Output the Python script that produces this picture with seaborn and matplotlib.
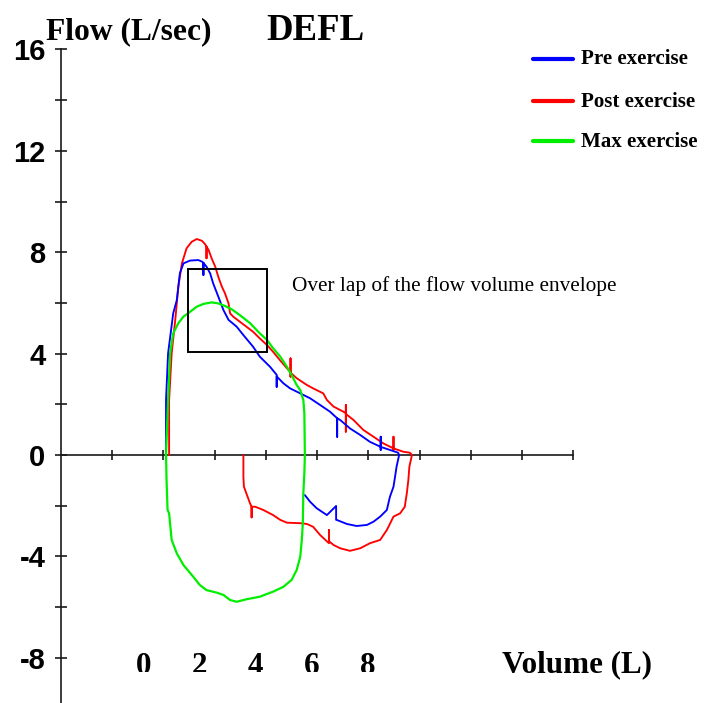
import matplotlib
matplotlib.use("Agg")
import matplotlib.pyplot as plt
import seaborn as sns
import pandas as pd
from matplotlib.patches import Rectangle
from matplotlib.lines import Line2D
from matplotlib.transforms import Bbox

# ---------------- data (volume in L, flow in L/sec) ----------------
series_names = ["Pre exercise", "Post exercise", "Max exercise"]
series_colors = ["#0000FF", "#FF0000", "#00EE00"]

pre_vol = [2.05, 2.05, 2.09, 2.19, 2.26, 2.32, 2.39, 2.52, 2.68, 2.75,
           2.78, 2.78, 2.78, 2.84, 2.91, 2.97, 3.07, 3.17, 3.27, 3.43,
           3.56, 3.75, 3.88, 4.08, 4.21, 4.21, 4.21, 4.34, 4.47, 4.67,
           4.86, 5.06, 5.25, 5.39, 5.39, 5.39, 5.45, 5.64, 5.84, 6.03,
           6.24, 6.24, 6.24, 6.24, 6.42, 6.58, 6.60,
           6.55, 6.52, 6.49, 6.42, 6.36, 6.23, 6.10, 5.97, 5.77, 5.58,
           5.38, 5.37, 5.37, 5.19, 4.99, 4.86, 4.76]
pre_flow = [0.00, 2.17, 4.01, 5.59, 6.11, 7.17, 7.56, 7.67, 7.69, 7.63,
            7.58, 7.10, 7.58, 7.43, 7.17, 6.77, 6.25, 5.72, 5.33, 5.06,
            4.73, 4.27, 3.88, 3.48, 3.16, 2.69, 3.10, 2.83, 2.63, 2.43,
            2.24, 1.97, 1.71, 1.45, 0.72, 1.45, 1.38, 1.05, 0.79, 0.52,
            0.32, 0.72, 0.20, 0.32, 0.20, 0.09, 0.00,
            -0.46, -0.86, -1.25, -1.65, -2.17, -2.43, -2.63, -2.76, -2.80, -2.72,
            -2.56, -2.56, -2.01, -2.37, -2.10, -1.84, -1.58]

post_vol = [2.11, 2.11, 2.16, 2.23, 2.29, 2.36, 2.45, 2.55, 2.65, 2.75,
            2.81, 2.84, 2.84, 2.84, 2.88, 2.94, 3.01, 3.07, 3.14, 3.20,
            3.27, 3.30, 3.36, 3.49, 3.62, 3.75, 3.88, 4.02, 4.14, 4.27,
            4.44, 4.48, 4.48, 4.48, 4.48, 4.60, 4.80, 4.92, 5.12, 5.19,
            5.32, 5.51, 5.56, 5.56, 5.56, 5.56, 5.71, 5.90, 6.10, 6.29,
            6.49, 6.49, 6.49, 6.49, 6.68, 6.81, 6.85,
            6.80, 6.78, 6.75, 6.71, 6.62, 6.49, 6.36, 6.23, 6.03, 5.84,
            5.64, 5.45, 5.32, 5.23, 5.23, 5.23, 5.06, 4.92, 4.80, 4.67,
            4.41, 4.28, 4.14, 3.95, 3.79, 3.72, 3.72, 3.72, 3.69, 3.63,
            3.57, 3.56, 3.56]
post_flow = [0.00, 2.17, 4.01, 5.33, 6.64, 7.56, 8.15, 8.41, 8.52, 8.45,
             8.32, 8.22, 7.76, 8.22, 8.09, 7.76, 7.43, 7.03, 6.64, 6.38,
             5.98, 5.59, 5.46, 5.26, 5.06, 4.86, 4.60, 4.34, 4.07, 3.75,
             3.35, 3.27, 3.81, 3.09, 3.25, 3.03, 2.76, 2.63, 2.43, 2.17,
             1.91, 1.71, 1.65, 1.97, 0.92, 1.62, 1.38, 0.99, 0.72, 0.46,
             0.26, 0.72, 0.20, 0.26, 0.13, 0.09, 0.00,
             -0.46, -0.99, -1.51, -2.04, -2.30, -2.43, -2.96, -3.35, -3.48, -3.68,
             -3.78, -3.68, -3.55, -3.40, -2.96, -3.48, -3.16, -2.83, -2.72, -2.69,
             -2.67, -2.56, -2.37, -2.17, -2.04, -2.04, -2.46, -2.04, -1.91, -1.58,
             -1.25, -0.86, 0.00]

max_vol = [2.05, 2.09, 2.13, 2.19, 2.29, 2.39, 2.52, 2.65, 2.78, 2.94,
           3.07, 3.20, 3.33, 3.49, 3.69, 3.88, 4.02, 4.14, 4.28, 4.41,
           4.50, 4.60, 4.67, 4.73, 4.75, 4.76,
           4.75, 4.73, 4.72, 4.70, 4.67, 4.60, 4.50, 4.34, 4.14, 3.88,
           3.62, 3.43, 3.30, 3.17, 3.04, 2.84, 2.71, 2.58, 2.39, 2.26,
           2.16, 2.11, 2.08, 2.06, 2.05]
max_flow = [0.00, 2.17, 4.01, 4.80, 5.20, 5.46, 5.65, 5.85, 5.96, 6.02,
            5.98, 5.88, 5.75, 5.52, 5.20, 4.80, 4.54, 4.21, 3.88, 3.48,
            3.16, 2.76, 2.56, 2.17, 1.65, 0.00,
            -0.72, -1.51, -2.69, -3.35, -4.01, -4.54, -4.93, -5.20, -5.39, -5.59,
            -5.69, -5.79, -5.72, -5.52, -5.43, -5.33, -5.13, -4.80, -4.34, -3.88,
            -3.35, -2.30, -2.17, -0.99, 0.00]

y_major = [-8, -4, 0, 4, 8, 12, 16]
y_minor = [-6, -2, 2, 6, 10, 14]
x_ticks = [1, 2, 3, 4, 5, 6, 7, 8, 9, 10]
bottom_labels = ["0", "2", "4", "6", "8"]

box_vol = (2.48, 4.02)
box_flow = (4.06, 7.34)

# ---------------- figure ----------------
sns.set_style("white")
plt.rcParams["font.family"] = ["Liberation Serif", "DejaVu Serif"]
plt.rcParams["text.color"] = "black"

W, H = 704, 703
fig = plt.figure(figsize=(W / 100, H / 100), dpi=100)
ax = fig.add_axes([0, 0, 1, 1])
ax.set_xlim(-1.191, 12.551)
ax.set_ylim(-9.783, 17.949)
ax.set_facecolor("white")

frames = []
for name, v, f in [(series_names[0], pre_vol, pre_flow),
                   (series_names[1], post_vol, post_flow),
                   (series_names[2], max_vol, max_flow)]:
    frames.append(pd.DataFrame({"Volume": v, "Flow": f, "Series": name}))
df = pd.concat(frames, ignore_index=True)
palette = dict(zip(series_names, series_colors))
widths = {"Pre exercise": 1.35, "Post exercise": 1.35, "Max exercise": 1.6}

for name in ["Post exercise", "Pre exercise", "Max exercise"]:
    sub = df[df["Series"] == name]
    sns.lineplot(data=sub, x="Volume", y="Flow", color=palette[name],
                 sort=False, estimator=None, lw=widths[name], ax=ax,
                 legend=False)

ax.set_xlabel("")
ax.set_ylabel("")

# axes through origin
for s in ["top", "right"]:
    ax.spines[s].set_visible(False)
ax.spines["left"].set_position(("data", 0))
ax.spines["bottom"].set_position(("data", 0))
ax.spines["left"].set_bounds(-9.783, 16)
ax.spines["bottom"].set_bounds(0, 10)
for s in ["left", "bottom"]:
    ax.spines[s].set_linewidth(1.2)
    ax.spines[s].set_color("#1a1a1a")
    ax.spines[s].set_zorder(1)

ax.set_yticks(y_major)
ax.set_yticklabels([str(t) for t in y_major])
ax.set_yticks(y_minor, minor=True)
ax.tick_params(axis="y", which="both", left=True, right=False,
               direction="inout", length=8.5, width=1.2, color="#1a1a1a",
               pad=7.0)
ax.set_xticks(x_ticks)
ax.set_xticklabels([])
ax.tick_params(axis="x", which="major", bottom=True, top=False,
               direction="inout", length=7.5, width=1.2, color="#1a1a1a")
ax.tick_params(axis="x", which="minor", bottom=False)
for lbl in ax.get_yticklabels():
    lbl.set_fontfamily(["Liberation Sans", "DejaVu Sans"])
    lbl.set_fontweight("bold")
    lbl.set_fontsize(21)
    lbl.set_color("black")

# overlap box
ax.add_patch(Rectangle((box_vol[0], box_flow[0]), box_vol[1] - box_vol[0],
                       box_flow[1] - box_flow[0], fill=False, lw=1.4,
                       ec="black", zorder=5))

def fx(px):
    return px / W

def fy(py):
    return 1 - py / H

# titles / labels
fig.text(fx(46), fy(39.5), "Flow (L/sec)", fontsize=22.7, fontweight="bold",
         ha="left", va="baseline", color="black")
fig.text(fx(266.5), fy(40), "DEFL", fontsize=26.5, fontweight="bold",
         ha="left", va="baseline", color="black")
fig.text(fx(291.5), fy(291), "Over lap of the flow volume envelope",
         fontsize=15.3, ha="left", va="baseline", color="black")
fig.text(fx(501.5), fy(672.7), "Volume (L)", fontsize=22.4, fontweight="bold",
         ha="left", va="baseline", color="black")

clip = Bbox([[0, H - 671.5], [W, H]])
for i, lab in enumerate(bottom_labels):
    t = fig.text(fx(143.3 + 56.0 * i), fy(674.5), lab, fontsize=22.4,
                 fontweight="bold", ha="center", va="baseline", color="black")
    t.set_clip_box(clip)
    t.set_clip_on(True)

# legend
leg_y = [59, 100.7, 140.7]
leg_base = [64, 107, 147.3]
for name, col, ly, lb in zip(series_names, series_colors, leg_y, leg_base):
    fig.add_artist(Line2D([fx(533), fx(573)], [fy(ly), fy(ly)], color=col,
                          lw=3.0, transform=fig.transFigure))
    fig.text(fx(581), fy(lb), name, fontsize=15.1, fontweight="bold",
             ha="left", va="baseline", color="black")

fig.savefig("out.png", dpi=100, facecolor="white")
